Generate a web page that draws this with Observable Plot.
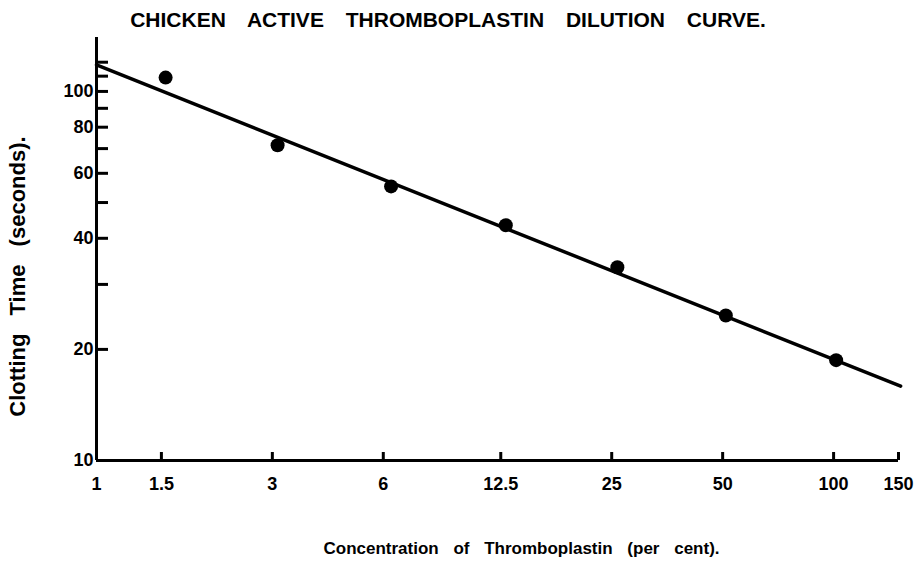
<!DOCTYPE html>
<html><head><meta charset="utf-8">
<script src="https://cdn.jsdelivr.net/npm/d3@7"></script>
<script src="https://cdn.jsdelivr.net/npm/@observablehq/plot@0.6"></script>
<style>
html,body{margin:0;padding:0;background:#fff;}
</style></head><body><div id="chart"></div>
<script>
// Data
const concentration = [1.54, 3.1, 6.3, 12.9, 25.9, 51, 101.6];
const clottingTime = [109, 71.5, 55.3, 43.4, 33.4, 24.7, 18.7];
const fitConcentration = [1, 152];
const fitTime = [118, 15.9];
const xTicks = [1, 1.5, 3, 6, 12.5, 25, 50, 100, 150];
const yTicks = [10, 20, 30, 40, 50, 60, 70, 80, 90, 100, 110, 120];
const yTickLabels = [10, 20, 40, 60, 80, 100];
const chartTitle = "CHICKEN ACTIVE THROMBOPLASTIN DILUTION CURVE.";
const xTitle = "Concentration of Thromboplastin (per cent).";
const yTitle = "Clotting Time (seconds).";

const points = concentration.map((c, i) => ({c, t: clottingTime[i]}));
const fit = fitConcentration.map((c, i) => ({c, t: fitTime[i]}));

const chart = Plot.plot({
  width: 915,
  height: 564,
  marginLeft: 96,
  marginRight: 17,
  marginTop: 37,
  marginBottom: 104,
  style: {fontFamily: "'Liberation Sans', Arial, sans-serif", fontWeight: "bold", background: "#fff", color: "#000"},
  x: {type: "log", domain: [1, 150]},
  y: {type: "log", domain: [10, 140]},
  marks: [
    Plot.ruleX([1], {y1: 10, y2: 140, strokeWidth: 3}),
    Plot.ruleY([10], {x1: 1, x2: 150, strokeWidth: 3}),
    Plot.axisY(yTicks, {anchor: "left", tickSize: -12, tickPadding: 15, strokeWidth: 3, fontSize: 18,
      tickFormat: d => yTickLabels.includes(d) ? String(d) : "", label: null}),
    Plot.axisX(xTicks, {anchor: "bottom", tickSize: -8, strokeWidth: 3, tickFormat: () => "", label: null}),
    Plot.text(xTicks, {x: d => d, frameAnchor: "bottom", dy: 17, lineAnchor: "top", fontSize: 18, fontWeight: "bold", text: d => String(d)}),
    Plot.line(fit, {x: "c", y: "t", strokeWidth: 3.5, stroke: "#000"}),
    Plot.dot(points, {x: "c", y: "t", r: 7, fill: "#000"}),
    Plot.text([chartTitle], {frameAnchor: "top", dx: -49.5, dy: -17.5, lineAnchor: "middle", textAnchor: "middle", fontSize: 21, fontWeight: "bold"}),
    Plot.text([xTitle], {frameAnchor: "bottom", dx: 24, dy: 88, lineAnchor: "middle", textAnchor: "middle", fontSize: 17, fontWeight: "bold"}),
    Plot.text([yTitle], {frameAnchor: "left", dx: -79, dy: 27.5, rotate: -90, lineAnchor: "middle", textAnchor: "middle", fontSize: 22, fontWeight: "bold"})
  ]
});
const spacing = new Map([[chartTitle, "16px"], [xTitle, "10px"], [yTitle, "12px"]]);
d3.select(chart).selectAll("text").each(function() {
  const ws = spacing.get(this.textContent);
  if (ws) this.style.wordSpacing = ws;
});
document.getElementById("chart").appendChild(chart);
</script></body></html>
